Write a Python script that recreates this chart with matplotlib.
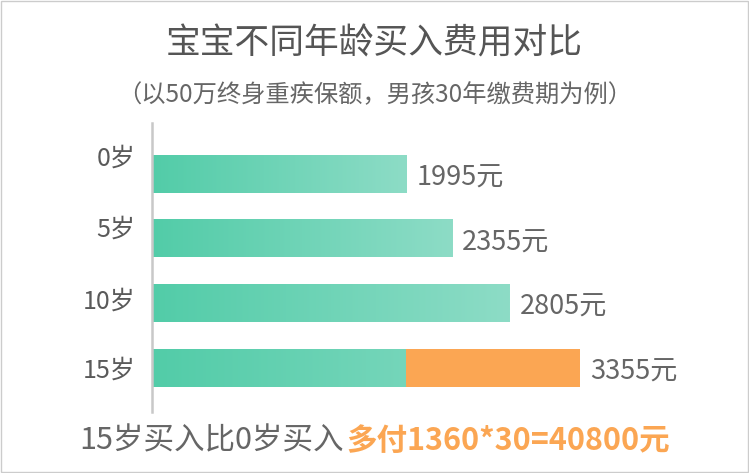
import numpy as np
import matplotlib.pyplot as plt
from matplotlib.colors import LinearSegmentedColormap
from matplotlib.patches import Rectangle

plt.rcParams['font.family'] = ['Noto Sans CJK SC', 'DejaVu Sans']

# data
ages = ['0岁', '5岁', '10岁', '15岁']
premiums = [1995, 2355, 2805, 3355]
base_premium = premiums[0]

title = '宝宝不同年龄买入费用对比'
subtitle = '（以50万终身重疾保额，男孩30年缴费期为例）'
note_gray = '15岁买入比0岁买入'
note_orange = '多付1360*30=40800元'

# the age labels sit a little above the bars in the original
label_pos = [-0.29, 0.82, 1.92, 3.0]

teal = LinearSegmentedColormap.from_list('teal', ['#52cca8', '#8ddcc6'])
orange = '#fba653'
gray = '#666666'

fig = plt.figure(figsize=(7.49, 4.73), dpi=100)
ax = fig.add_axes([152 / 749, 1 - 412 / 473, 548 / 749, 289 / 473])

bar_h = 0.58
grad = np.linspace(0, 1, 256).reshape(1, -1)
for i, v in enumerate(premiums):
    ax.imshow(grad, cmap=teal, aspect='auto', interpolation='bilinear',
              extent=[0, v, i + bar_h / 2, i - bar_h / 2], zorder=2)
    ax.text(v + 80, i + 0.06, f'{v}元', va='center', ha='left',
            fontsize=19.5, color=gray)

# extra cost of the 15 year old part
ax.barh(3, premiums[3] - base_premium, left=base_premium, height=bar_h,
        color=orange, zorder=3)

ax.set_xlim(0, 4300)
ax.set_ylim(3.68, -0.79)
ax.set_yticks(label_pos)
ax.set_yticklabels(ages, fontsize=18, color='#5a5a5a')
ax.tick_params(axis='y', length=0, pad=12)
ax.set_xticks([])
for s in ['top', 'right', 'bottom']:
    ax.spines[s].set_visible(False)
ax.spines['left'].set_color('#c8c8c8')
ax.spines['left'].set_linewidth(1.8)

fig.text(0.5, 1 - 44 / 473, title, ha='center', va='center',
         fontsize=25, color='#555555')
fig.text(0.5, 1 - 95 / 473, subtitle, ha='center', va='center',
         fontsize=17.5, color=gray)
fig.text(344 / 749, 1 - 441 / 473, note_gray, ha='right', va='center',
         fontsize=22, color=gray)
fig.text(346 / 749, 1 - 441 / 473, note_orange, ha='left', va='center',
         fontsize=22, color=orange, fontweight='bold')

fig.patches.append(Rectangle((0.002, 0.002), 0.996, 0.996, transform=fig.transFigure,
                             fill=False, edgecolor='#cccccc', linewidth=1))

fig.savefig('out.png', dpi=100)
